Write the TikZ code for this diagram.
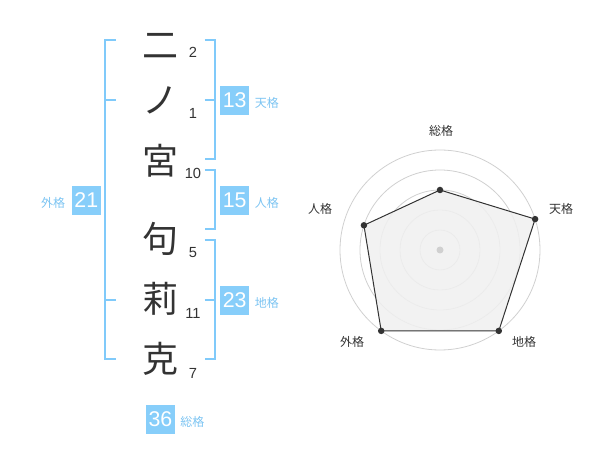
\documentclass[tikz,border=0pt]{standalone}
\usepackage{fontspec}
\setmainfont{Noto Sans CJK JP}
\newfontfamily\digitfont{Liberation Sans}
\definecolor{brk}{HTML}{80CAFA}
\definecolor{boxc}{HTML}{87CEFA}
\definecolor{lblc}{HTML}{7CC4F2}
\definecolor{ink}{HTML}{333333}
\definecolor{ring}{HTML}{D0D0D0}
\tikzset{
  bracket/.style={draw=brk,line width=1.5pt},
  kanji/.style={font=\fontsize{27}{27}\selectfont,text=ink,inner sep=0pt},
  strokes/.style={font=\digitfont\fontsize{11}{11}\selectfont,text=ink,inner sep=0pt},
  scorebox/.style={fill=boxc,text=white,minimum width=29*0.75pt,minimum height=29*0.75pt,inner sep=0pt,font=\digitfont\fontsize{16}{16}\selectfont},
  scorelbl/.style={text=lblc,font=\fontsize{9}{9}\selectfont,inner sep=0pt},
  radlbl/.style={text=ink,font=\fontsize{9}{9}\selectfont,inner sep=0pt},
  ringc/.style={draw=ring,line width=0.6pt},
  dot/.style={circle,fill=ink,inner sep=0pt,minimum size=6.5*0.75pt},
}
\begin{document}
\begin{tikzpicture}[x=0.75pt,y=-0.75pt]
\useasboundingbox (0,0) rectangle (600,470);
% characters
\node[kanji] (k1) at (160,46) {二};
\node[kanji] (k2) at (160,100) {ノ};
\node[kanji] (k3) at (160,161) {宮};
\node[kanji] (k4) at (160,239) {句};
\node[kanji] (k5) at (160,299) {莉};
\node[kanji] (k6) at (160,359) {克};
% stroke counts
\node[strokes] (s1) at (193,52.5) {2};
\node[strokes] (s2) at (193,113) {1};
\node[strokes] (s3) at (193,173) {10};
\node[strokes] (s4) at (193,253) {5};
\node[strokes] (s5) at (193,313) {11};
\node[strokes] (s6) at (193,373) {7};
% brackets
\draw[bracket] (115.5,40) -- (105,40) -- (105,359.5) -- (115.5,359.5);
\draw[bracket] (105,100) -- (115.5,100);
\draw[bracket] (105,300) -- (115.5,300);
\draw[bracket] (204.5,40) -- (214.5,40) -- (214.5,159.5) -- (204.5,159.5);
\draw[bracket] (204.5,100) -- (214.5,100);
\draw[bracket] (204.5,170) -- (214.5,170) -- (214.5,229.5) -- (204.5,229.5);
\draw[bracket] (204.5,240) -- (214.5,240) -- (214.5,359.5) -- (204.5,359.5);
\draw[bracket] (204.5,300) -- (214.5,300);
% score boxes
\node[scorebox] (b13) at (234.7,100.3) {13};
\node[scorelbl,anchor=west] (l13) at (254.5,103) {天格};
\node[scorebox] (b15) at (234.7,200.3) {15};
\node[scorelbl,anchor=west] (l15) at (254.5,203) {人格};
\node[scorebox] (b23) at (234.7,300.3) {23};
\node[scorelbl,anchor=west] (l23) at (254.5,303) {地格};
\node[scorebox] (b21) at (86.3,200.3) {21};
\node[scorelbl,anchor=east] (l21) at (65.5,203) {外格};
\node[scorebox] (b36) at (160.5,419) {36};
\node[scorelbl,anchor=west] (l36) at (180,422) {総格};
% radar chart
\begin{scope}[shift={(440,250)}]
  \foreach \r in {20,40,60,80,100} \draw[ringc] (0,0) circle[radius=\r];
  \coordinate (pS) at (-90:60);
  \coordinate (pT) at (-18:100);
  \coordinate (pC) at (54:100);
  \coordinate (pG) at (126:100);
  \coordinate (pJ) at (-162:80);
  \fill[black!6,opacity=0.85] (pS) -- (pT) -- (pC) -- (pG) -- (pJ) -- cycle;
  \draw[ink,line width=0.75pt] (pS) -- (pT) -- (pC) -- (pG) -- (pJ) -- cycle;
  \foreach \p in {pS,pT,pC,pG,pJ} \node[dot] at (\p) {};
  \fill[ring] (0,0) circle[radius=3.5];
\end{scope}
\node[radlbl] (rS) at (441,130.5) {総格};
\node[radlbl] (rT) at (561,208.5) {天格};
\node[radlbl] (rC) at (524,341.5) {地格};
\node[radlbl] (rG) at (352,341.5) {外格};
\node[radlbl] (rJ) at (320,208.5) {人格};
\end{tikzpicture}
\end{document}
